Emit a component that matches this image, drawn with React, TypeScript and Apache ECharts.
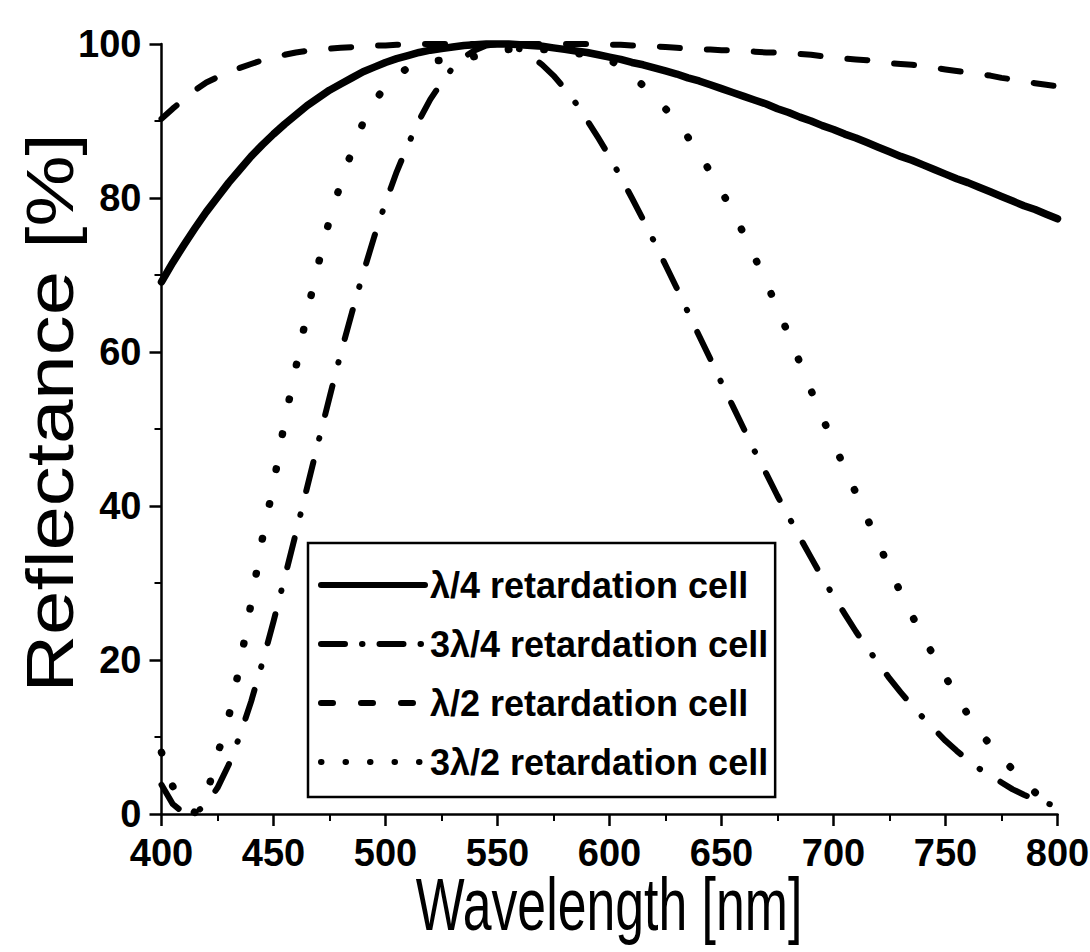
import React, { useEffect, useRef } from "react";
import * as echarts from "echarts";

// Wavelength samples [nm]
const wavelength = [
  400, 405, 410, 415, 420, 425, 430, 435, 440, 445, 450, 455, 460, 465, 470, 475, 480, 485, 490, 495,
  500, 505, 510, 515, 520, 525, 530, 535, 540, 545, 550, 555, 560, 565, 570, 575, 580, 585, 590, 595,
  600, 605, 610, 615, 620, 625, 630, 635, 640, 645, 650, 655, 660, 665, 670, 675, 680, 685, 690, 695,
  700, 705, 710, 715, 720, 725, 730, 735, 740, 745, 750, 755, 760, 765, 770, 775, 780, 785, 790, 795,
  800,
];

// λ/4 retardation cell (solid)
const quarterWave = [
  69.1, 71.6, 73.9, 76.1, 78.2, 80.1, 82.0, 83.7, 85.4, 86.9, 88.3, 89.6, 90.8, 92.0, 93.0, 94.0, 94.8, 95.6, 96.4, 97.0,
  97.6, 98.1, 98.5, 98.9, 99.2, 99.4, 99.6, 99.8, 99.9, 100, 100, 100, 99.9, 99.8, 99.7, 99.5, 99.3, 99.1, 98.9, 98.6,
  98.3, 98.0, 97.6, 97.3, 96.9, 96.5, 96.1, 95.6, 95.2, 94.7, 94.2, 93.7, 93.2, 92.7, 92.2, 91.6, 91.1, 90.5, 90.0, 89.4,
  88.9, 88.3, 87.8, 87.2, 86.6, 86.0, 85.4, 84.9, 84.3, 83.7, 83.1, 82.5, 82.0, 81.4, 80.8, 80.2, 79.6, 79.0, 78.5, 77.9,
  77.3,
];

// 3λ/4 retardation cell (dash-dot)
const threeQuarterWave = [
  3.8, 1.3, 0.1, 0.1, 1.3, 3.4, 6.4, 10.2, 14.6, 19.6, 25.0, 30.7, 36.5, 42.4, 48.3, 54.1, 59.8, 65.1, 70.2, 75.0,
  79.4, 83.4, 86.9, 90.1, 92.8, 95.0, 96.9, 98.3, 99.2, 99.8, 100, 99.8, 99.3, 98.4, 97.3, 95.9, 94.2, 92.3, 90.1, 87.8,
  85.4, 82.7, 80.0, 77.2, 74.3, 71.3, 68.3, 65.2, 62.1, 59.1, 56.0, 53.0, 50.0, 47.0, 44.2, 41.3, 38.6, 35.9, 33.3, 30.7,
  28.3, 26.0, 23.7, 21.6, 19.6, 17.6, 15.8, 14.1, 12.5, 11.0, 9.5, 8.2, 7.0, 5.9, 5.0, 4.1, 3.2, 2.5, 1.9, 1.4,
  1.0,
];

// λ/2 retardation cell (dashed)
const halfWave = [
  90.3, 91.6, 92.8, 94.0, 95.0, 95.7, 96.3, 96.9, 97.4, 97.9, 98.2, 98.6, 98.9, 99.1, 99.3, 99.4, 99.5, 99.6, 99.7, 99.8,
  99.8, 99.9, 99.9, 100, 100, 100, 100, 100, 100, 100, 100, 100, 100, 100, 100, 100, 100, 100, 100, 99.9,
  99.9, 99.9, 99.8, 99.8, 99.7, 99.6, 99.5, 99.4, 99.3, 99.3, 99.2, 99.2, 99.1, 99.0, 98.9, 98.9, 98.8, 98.7, 98.6, 98.4,
  98.3, 98.1, 98.0, 97.9, 97.7, 97.5, 97.4, 97.3, 97.1, 96.9, 96.7, 96.5, 96.3, 96.1, 95.9, 95.6, 95.4, 95.1, 94.9, 94.7,
  94.5,
];

// 3λ/2 retardation cell (dotted)
const threeHalfWave = [
  8.0, 3.6, 0.9, 0.2, 2.3, 7.7, 12.6, 19.3, 27.4, 35.7, 42.8, 51.0, 58.0, 65.1, 71.4, 77.2, 81.9, 86.1, 89.8, 92.5,
  94.5, 95.9, 96.9, 97.4, 97.7, 97.9, 98.0, 98.1, 98.4, 98.8, 99.1, 99.3, 99.4, 99.4, 99.3, 99.2, 99.0, 98.8, 98.6, 98.3,
  97.9, 97.1, 95.9, 94.6, 93.2, 91.6, 89.8, 87.9, 85.7, 83.4, 80.9, 78.2, 75.3, 72.2, 69.0, 65.7, 62.2, 58.6, 55.0, 51.5,
  48.2, 44.9, 41.7, 38.4, 35.2, 31.9, 28.7, 25.8, 23.0, 20.4, 17.8, 15.3, 12.9, 10.7, 9.0, 7.2, 5.8, 4.3, 2.8, 1.4,
  0.3,
];

const seriesNames = [
  "λ/4 retardation cell",
  "3λ/4 retardation cell",
  "λ/2 retardation cell",
  "3λ/2 retardation cell",
];

const xTitle = "Wavelength [nm]";
const yTitle = "Reflectance [%]";

const xTicks = { min: 400, max: 800, interval: 50 };
const yTicks = { min: 0, max: 100, interval: 20 };

const FONT = "'Liberation Sans', Arial, Helvetica, sans-serif";

const pairs = (ys: number[]) => wavelength.map((x, i) => [x, ys[i]]);

export default function App() {
  const ref = useRef<HTMLDivElement>(null);
  useEffect(() => {
    if (!ref.current) return;
    const chart = echarts.init(ref.current, undefined, { renderer: "svg" });
    const axisCommon = {
      axisLine: { show: true, lineStyle: { color: "#000", width: 2.5 } },
      axisTick: { show: true, inside: false, length: 12, lineStyle: { color: "#000", width: 2.5 } },
      minorTick: { show: true, splitNumber: 2, length: 7, lineStyle: { color: "#000", width: 2 } },
      splitLine: { show: false },
      minorSplitLine: { show: false },
    };
    const tickLabel = { fontFamily: FONT, fontWeight: "bold", fontSize: 38, color: "#000", margin: 20 };
    const baseLine = { color: "#000", cap: "round", join: "round" };
    const styles = [
      { width: 7.5, type: "solid" as any },
      { width: 6, type: [30, 24, 0.5, 24] },
      { width: 6, type: [20, 27] },
      { width: 7.5, type: [0.5, 35] },
    ];
    const legendStyles = [
      { width: 6, type: "solid" as any },
      { width: 6, type: [24, 17, 0.5, 17] },
      { width: 6, type: [12, 28] },
      { width: 6, type: [0.5, 24] },
    ];
    const data = [quarterWave, threeQuarterWave, halfWave, threeHalfWave];
    chart.setOption({
      animation: false,
      backgroundColor: "#fff",
      grid: { left: 161.5, top: 44, width: 896, height: 770, containLabel: false, outerBoundsMode: "none" },
      legend: {
        show: true,
        orient: "vertical",
        left: 308,
        top: 543,
        padding: [17, 7, 10, 10],
        itemGap: 9,
        itemWidth: 104,
        itemHeight: 20,
        borderColor: "#000",
        borderWidth: 2.5,
        borderRadius: 0,
        backgroundColor: "#fff",
        itemStyle: { color: "rgba(0,0,0,0)", borderColor: "rgba(0,0,0,0)", borderWidth: 0, opacity: 0 },
        lineStyle: { width: 6, color: "#000", cap: "round" },
        textStyle: { fontFamily: FONT, fontWeight: "bold", fontSize: 36, color: "#000", lineHeight: 50 },
        data: seriesNames.map((name, i) => ({
          name,
          lineStyle: { ...legendStyles[i], color: "#000", cap: "round" },
        })),
      },
      xAxis: {
        type: "value",
        ...xTicks,
        axisLabel: tickLabel,
        ...axisCommon,
      },
      yAxis: {
        type: "value",
        ...yTicks,
        axisLabel: tickLabel,
        ...axisCommon,
      },
      graphic: [
        {
          type: "text",
          x: 609,
          y: 905,
          scaleX: 0.7,
          silent: true,
          style: {
            text: xTitle,
            fontFamily: FONT,
            fontSize: 74,
            fill: "#000",
            align: "center",
            verticalAlign: "middle",
          },
        },
        {
          type: "text",
          x: 50,
          y: 413,
          rotation: Math.PI / 2,
          scaleX: 1.21,
          silent: true,
          style: {
            text: yTitle,
            fontFamily: FONT,
            fontSize: 66,
            fill: "#000",
            align: "center",
            verticalAlign: "middle",
          },
        },
      ],
      series: data.map((ys, i) => ({
        name: seriesNames[i],
        type: "line",
        data: pairs(ys),
        showSymbol: false,
        symbol: "none",
        clip: false,
        lineStyle: { ...baseLine, ...styles[i] },
      })),
    });
    return () => chart.dispose();
  }, []);
  return (
    <div
      ref={ref}
      style={{ position: "fixed", left: 0, top: 0, width: 1090, height: 952, background: "#fff" }}
    />
  );
}
